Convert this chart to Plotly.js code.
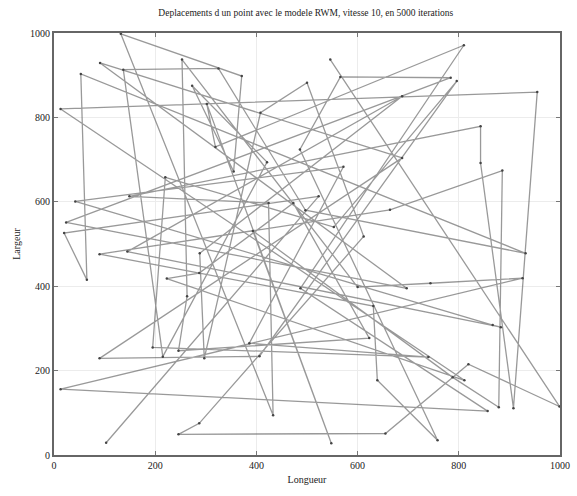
<!DOCTYPE html>
<html>
<head>
<meta charset="utf-8">
<script src="https://cdn.plot.ly/plotly-3.0.1.min.js"></script>
<style>html,body{margin:0;padding:0;background:#fff;}#chart{width:577px;height:496px;}</style>
</head>
<body>
<div id="chart"></div>
<script>
// Waypoints of the random waypoint trajectory, in visiting order
const waypointX = [546, 999, 819, 655, 246, 287, 612, 500, 408, 297, 288, 688, 145, 883, 867, 42, 572, 386, 740, 195, 220, 553, 796, 406, 90, 688, 91, 697, 24, 784, 566, 486, 758, 639, 631, 90, 664, 886, 879, 788, 393, 548, 302, 319, 810, 487, 857, 13, 926, 744, 600, 253, 263, 246, 623, 473, 287, 223, 811, 13, 955, 908, 843, 843, 149, 424, 433, 132, 371, 355, 273, 421, 215, 137, 325, 497, 932, 53, 65, 20, 523, 103];
const waypointY = [937, 115, 215, 51, 49, 75, 518, 882, 811, 229, 478, 850, 482, 303, 308, 601, 683, 265, 232, 255, 658, 540, 886, 234, 229, 704, 929, 395, 551, 894, 896, 724, 35, 177, 353, 476, 581, 674, 113, 184, 531, 28, 832, 730, 971, 395, 104, 156, 419, 407, 398, 937, 376, 247, 277, 597, 431, 418, 177, 820, 860, 111, 692, 779, 613, 597, 94, 998, 898, 672, 875, 694, 233, 913, 916, 580, 478, 903, 415, 526, 613, 29];
const tickValues = [0, 200, 400, 600, 800, 1000];
const tickLabels = ['0', '200', '400', '600', '800', '1000'];
const titleText = 'Deplacements d un point avec le modele RWM, vitesse 10, en 5000 iterations';
const xTitle = 'Longueur';
const yTitle = 'Largeur';

const serif = 'Liberation Serif, Times New Roman, serif';
const trace = {
  x: waypointX,
  y: waypointY,
  mode: 'lines+markers',
  type: 'scatter',
  line: {color: 'rgba(90,90,90,0.62)', width: 1.3},
  marker: {color: '#444', size: 2.5},
  hoverinfo: 'skip'
};
const axisCommon = {
  range: [0, 1000],
  tickvals: tickValues,
  ticktext: tickLabels,
  ticks: 'inside',
  ticklen: 4,
  tickcolor: '#777',
  showline: true,
  linewidth: 2,
  linecolor: '#666',
  mirror: 'allticks',
  showgrid: true,
  gridcolor: '#ececec',
  gridwidth: 1,
  zeroline: false,
  tickfont: {family: serif, size: 10, color: '#222'},
  fixedrange: true
};
const layout = {
  width: 577,
  height: 496,
  margin: {l: 54, r: 17, t: 33, b: 41},
  paper_bgcolor: '#fff',
  plot_bgcolor: '#fff',
  showlegend: false,
  title: {text: titleText, font: {family: serif, size: 9.5, color: '#222'}, x: 0.53, xanchor: 'center', y: 0.975, yanchor: 'middle'},
  xaxis: Object.assign({}, axisCommon, {title: {text: xTitle, font: {family: serif, size: 10, color: '#222'}, standoff: 6}}),
  yaxis: Object.assign({}, axisCommon, {title: {text: yTitle, font: {family: serif, size: 10, color: '#222'}, standoff: 8}})
};
Plotly.newPlot('chart', [trace], layout, {displayModeBar: false, staticPlot: true});
</script>
</body>
</html>
